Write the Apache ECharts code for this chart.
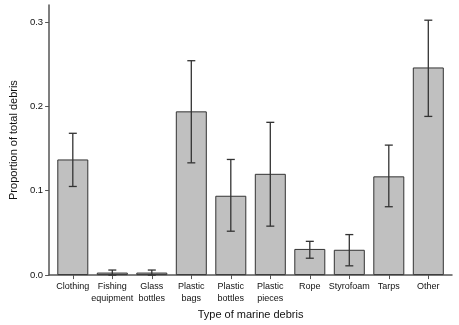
<!DOCTYPE html>
<html>
<head>
<meta charset="utf-8">
<script src="https://cdn.jsdelivr.net/npm/echarts@6/dist/echarts.min.js"></script>
<style>
  html, body { margin: 0; padding: 0; background: #fff; }
  #chart { width: 459px; height: 325px; }
</style>
</head>
<body>
<div id="chart"></div>
<script>
const categories = ['Clothing', 'Fishing\nequipment', 'Glass\nbottles', 'Plastic\nbags', 'Plastic\nbottles',
  'Plastic\npieces', 'Rope', 'Styrofoam', 'Tarps', 'Other']
const means = [0.137, 0.003, 0.003, 0.194, 0.094, 0.120, 0.031, 0.030, 0.117, 0.246]
const lower = [0.105, 0.000, 0.000, 0.133, 0.052, 0.058, 0.020, 0.011, 0.081, 0.188]
const upper = [0.168, 0.006, 0.006, 0.254, 0.137, 0.181, 0.040, 0.048, 0.154, 0.302]
const yTicks = [0, 0.1, 0.2, 0.3]

const FONT = '"Liberation Sans", Arial, sans-serif'
const AXIS_COLOR = '#555'
const idx = categories.map((c, i) => i)

const chart = echarts.init(document.getElementById('chart'), null, { renderer: 'canvas' })

const option = {
  animation: false,
  textStyle: { fontFamily: FONT },
  grid: { left: 44, right: 7, top: 5, bottom: 49 },
  xAxis: {
    type: 'value',
    min: -0.6,
    max: 9.6,
    splitLine: { show: false },
    axisLine: { show: true, onZero: false, lineStyle: { color: AXIS_COLOR, width: 1.5 } },
    axisTick: { show: true, length: 4, customValues: idx, lineStyle: { color: AXIS_COLOR } },
    axisLabel: {
      customValues: idx,
      showMinLabel: true,
      showMaxLabel: true,
      hideOverlap: false,
      formatter: (v) => categories[Math.round(v)],
      color: '#111',
      fontSize: 9,
      lineHeight: 12,
      margin: 5
    },
    name: 'Type of marine debris',
    nameLocation: 'middle',
    nameGap: 32,
    nameTextStyle: { color: '#111', fontSize: 11 }
  },
  yAxis: {
    type: 'value',
    min: 0,
    max: 0.32,
    splitLine: { show: false },
    axisLine: { show: true, onZero: false, lineStyle: { color: AXIS_COLOR, width: 1.5 } },
    axisTick: { show: true, length: 4, customValues: yTicks, lineStyle: { color: AXIS_COLOR } },
    axisLabel: {
      customValues: yTicks,
      formatter: (v) => v.toFixed(1),
      color: '#111',
      fontSize: 9.5,
      margin: 6
    },
    name: 'Proportion of total debris',
    nameLocation: 'middle',
    nameGap: 28,
    nameTextStyle: { color: '#111', fontSize: 11 }
  },
  series: [
    {
      type: 'bar',
      barWidth: 31,
      data: means.map((m, i) => [i, m]),
      itemStyle: { color: '#c0c0c0', borderColor: '#333', borderWidth: 1 }
    },
    {
      type: 'custom',
      data: idx.map((i) => [i, lower[i], upper[i]]),
      renderItem: (params, api) => {
        const x = api.value(0)
        const lo = api.coord([x, api.value(1)])
        const hi = api.coord([x, api.value(2)])
        const half = 4
        const style = { stroke: '#333', lineWidth: 1.3 }
        return {
          type: 'group',
          children: [
            { type: 'line', shape: { x1: hi[0], y1: hi[1], x2: lo[0], y2: lo[1] }, style },
            { type: 'line', shape: { x1: hi[0] - half, y1: hi[1], x2: hi[0] + half, y2: hi[1] }, style },
            { type: 'line', shape: { x1: lo[0] - half, y1: lo[1], x2: lo[0] + half, y2: lo[1] }, style }
          ]
        }
      },
      z: 10
    }
  ]
}

chart.setOption(option)
</script>
</body>
</html>
